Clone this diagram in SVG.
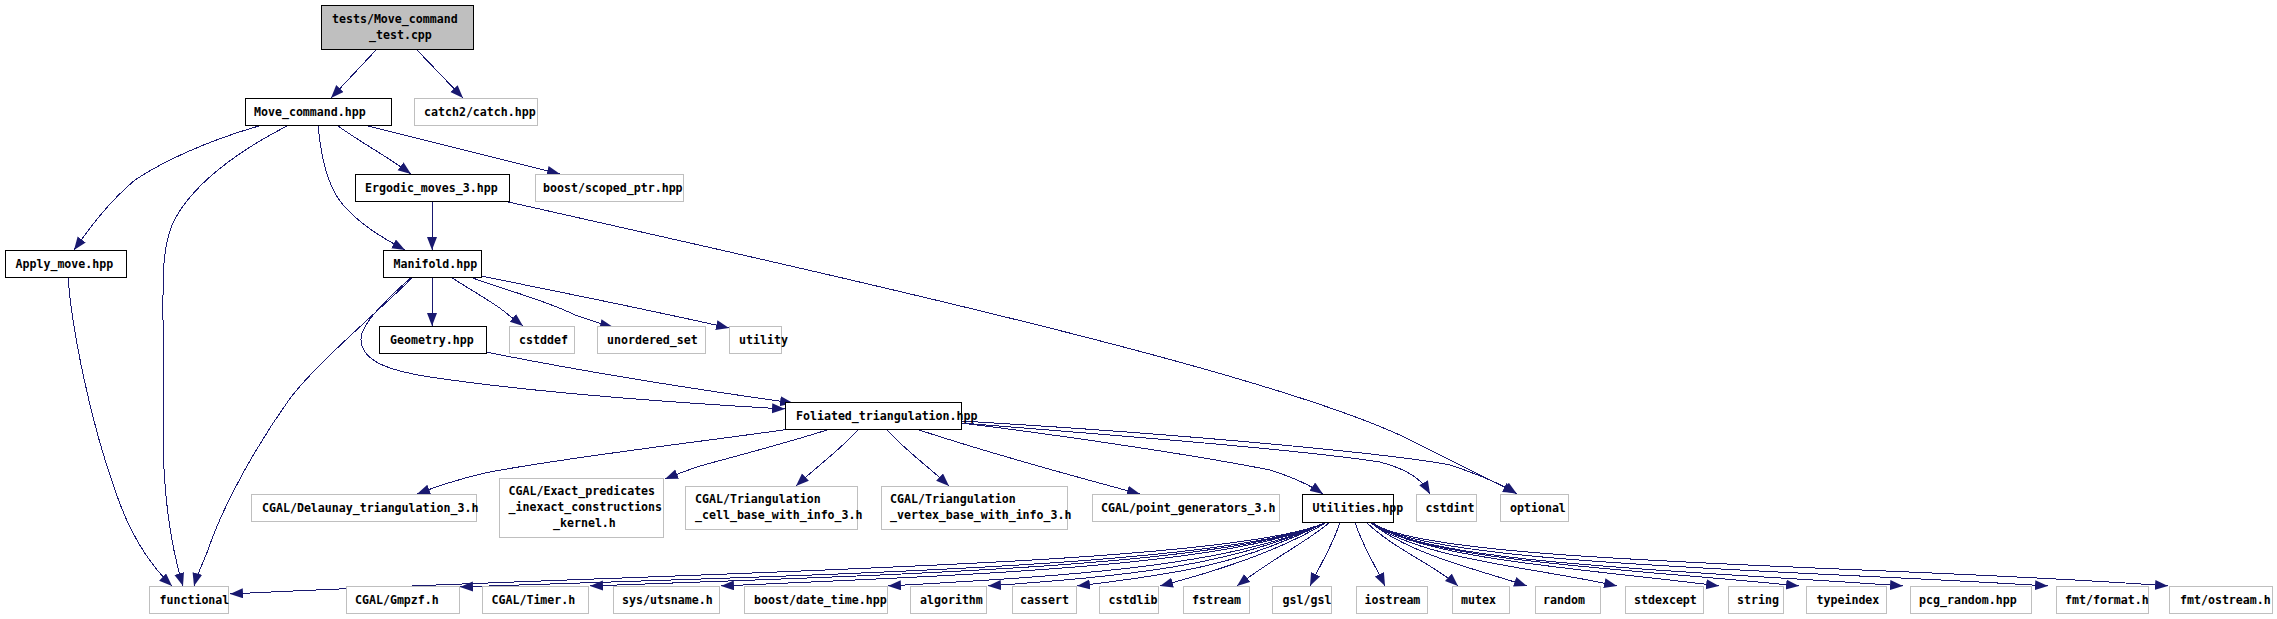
<svg xmlns="http://www.w3.org/2000/svg" width="2277" height="619" viewBox="0 0 2277 619">
<defs>
<style>
.n rect{fill:#ffffff;stroke:#000000;stroke-width:1}
.s rect{fill:#ffffff;stroke:#bfbfbf;stroke-width:1}
.r rect{fill:#bfbfbf;stroke:#000000;stroke-width:1}
text{font-family:"DejaVu Sans Mono","Liberation Mono",monospace;font-size:11.6px;font-weight:bold;fill:#000000}
#edges path{fill:none;stroke:#191970;stroke-width:1;shape-rendering:crispEdges;marker-end:url(#a)}
</style>
<marker id="a" markerUnits="userSpaceOnUse" markerWidth="14" markerHeight="11" refX="13" refY="5" orient="auto"><path d="M0,0 L13,5 L0,10 z" fill="#191970"/></marker>
</defs>
<rect width="2277" height="619" fill="#ffffff"/>
<g id="edges">
<path d="M376,50 L331,98"/>
<path d="M417,50 L463,98"/>
<path d="M259,126 C210,140 165,160 135,180 C105,205 85,235 74,250"/>
<path d="M287,126 C240,150 190,185 172,225 C162,250 163,280 163,320 L163,430 C163,500 172,550 183,586"/>
<path d="M318,126 C322,165 330,195 350,212 C365,228 390,242 405,250"/>
<path d="M338,126 C360,142 385,155 411,174"/>
<path d="M368,126 L560,174"/>
<path d="M432,201 L432,250"/>
<path d="M504,201 C900,290 1300,380 1420,445 C1470,470 1495,483 1516,493"/>
<path d="M68,277 C72,330 90,420 115,490 C130,535 150,565 172,586"/>
<path d="M432,277 L432,326"/>
<path d="M451,277 C470,290 490,300 505,312 C512,318 518,322 523,326"/>
<path d="M470,277 C505,290 545,300 575,315 C590,320 600,324 613,327"/>
<path d="M481,276 C560,292 650,310 729,328"/>
<path d="M413,277 C380,310 320,360 291,397 C260,440 225,500 208,550 C202,565 197,575 194,586"/>
<path d="M412,277 C385,300 360,325 361,340 C362,360 385,370 430,377 C530,392 680,403 785,409"/>
<path d="M486,352 C600,375 700,390 793,403"/>
<path d="M790,429 C700,442 560,458 485,473 C455,480 435,487 417,494"/>
<path d="M830,429 C790,442 740,455 700,466 C685,471 675,475 665,479"/>
<path d="M859,429 C840,450 815,468 796,486"/>
<path d="M886,429 C905,450 930,468 949,486"/>
<path d="M916,429 C980,450 1050,470 1140,494"/>
<path d="M961,423 C1100,440 1220,460 1270,470 C1295,478 1310,485 1323,494"/>
<path d="M961,423 C1150,438 1300,450 1380,462 C1410,470 1422,480 1430,494"/>
<path d="M961,421 C1200,435 1400,455 1450,465 C1480,475 1500,483 1517,494"/>
<path d="M1327,522 C1230,567 669,572 230,594"/>
<path d="M1327,522 C1230,567 807,575 460,587"/>
<path d="M1327,522 C1230,567 885,575 590,586"/>
<path d="M1327,522 C1230,567 963,575 721,586"/>
<path d="M1327,522 C1230,567 1064,576 888,586"/>
<path d="M1327,522 C1230,567 1124,576 988,586"/>
<path d="M1327,522 C1240,565 1177,574 1077,586"/>
<path d="M1327,522 C1290,545 1240,565 1160,586"/>
<path d="M1330,522 C1310,540 1270,560 1237,586"/>
<path d="M1340,522 C1333,545 1320,565 1310,586"/>
<path d="M1355,522 C1362,545 1375,565 1385,586"/>
<path d="M1366,522 C1395,550 1435,565 1458,586"/>
<path d="M1370,522 C1410,555 1480,570 1527,586"/>
<path d="M1370,522 C1420,560 1540,568 1617,586"/>
<path d="M1371,522 C1420,560 1600,570 1719,586"/>
<path d="M1371,522 C1420,562 1650,570 1799,586"/>
<path d="M1372,522 C1420,565 1720,572 1903,586"/>
<path d="M1372,522 C1420,565 1800,570 2048,586"/>
<path d="M1372,522 C1420,565 1900,565 2168,586"/>
</g>
<g id="node_test" class="r"><rect x="321.5" y="5.5" width="152" height="44"/><text x="332" y="23">tests/Move_command</text><text x="369" y="39">_test.cpp</text></g>
<g id="node_move_command" class="n"><rect x="245.5" y="98.5" width="146" height="27"/><text x="254" y="115.5">Move_command.hpp</text></g>
<g id="node_catch" class="s"><rect x="414.5" y="98.5" width="123" height="27"/><text x="424" y="115.5">catch2/catch.hpp</text></g>
<g id="node_ergodic" class="n"><rect x="355.5" y="174.5" width="154" height="27"/><text x="365" y="191.5">Ergodic_moves_3.hpp</text></g>
<g id="node_scoped_ptr" class="s"><rect x="535.5" y="174.5" width="148" height="27"/><text x="543" y="191.5">boost/scoped_ptr.hpp</text></g>
<g id="node_apply_move" class="n"><rect x="5.5" y="250.5" width="121" height="27"/><text x="15.5" y="267.5">Apply_move.hpp</text></g>
<g id="node_manifold" class="n"><rect x="383.5" y="250.5" width="98" height="27"/><text x="393.5" y="267.5">Manifold.hpp</text></g>
<g id="node_geometry" class="n"><rect x="379.5" y="326.5" width="107" height="27"/><text x="390" y="343.5">Geometry.hpp</text></g>
<g id="node_cstddef" class="s"><rect x="509.5" y="326.5" width="65" height="27"/><text x="519" y="343.5">cstddef</text></g>
<g id="node_unordered_set" class="s"><rect x="597.5" y="326.5" width="108" height="27"/><text x="607" y="343.5">unordered_set</text></g>
<g id="node_utility" class="s"><rect x="729.5" y="326.5" width="52" height="27"/><text x="739" y="343.5">utility</text></g>
<g id="node_foliated" class="n"><rect x="785.5" y="402.5" width="176" height="27"/><text x="796" y="419.5">Foliated_triangulation.hpp</text></g>
<g id="node_delaunay" class="s"><rect x="251.5" y="494.5" width="225" height="27"/><text x="262" y="511.5">CGAL/Delaunay_triangulation_3.h</text></g>
<g id="node_exact" class="s"><rect x="499.5" y="478.5" width="164" height="59"/><text x="508.5" y="495">CGAL/Exact_predicates</text><text x="508.5" y="511">_inexact_constructions</text><text x="553" y="527">_kernel.h</text></g>
<g id="node_tri_cell" class="s"><rect x="685.5" y="486.5" width="172" height="43"/><text x="695" y="503">CGAL/Triangulation</text><text x="695" y="519">_cell_base_with_info_3.h</text></g>
<g id="node_tri_vertex" class="s"><rect x="881.5" y="486.5" width="186" height="43"/><text x="890" y="503">CGAL/Triangulation</text><text x="890" y="519">_vertex_base_with_info_3.h</text></g>
<g id="node_point_generators" class="s"><rect x="1092.5" y="494.5" width="187" height="27"/><text x="1101" y="511.5">CGAL/point_generators_3.h</text></g>
<g id="node_utilities" class="n"><rect x="1302.5" y="494.5" width="91" height="28"/><text x="1312.5" y="511.5">Utilities.hpp</text></g>
<g id="node_cstdint" class="s"><rect x="1416.5" y="494.5" width="60" height="27"/><text x="1425.5" y="511.5">cstdint</text></g>
<g id="node_optional" class="s"><rect x="1500.5" y="494.5" width="68" height="27"/><text x="1510" y="511.5">optional</text></g>
<g id="node_functional" class="s"><rect x="149.5" y="586.5" width="79" height="27"/><text x="159.5" y="603.5">functional</text></g>
<g id="node_gmpzf" class="s"><rect x="346.5" y="586.5" width="113" height="27"/><text x="355" y="603.5">CGAL/Gmpzf.h</text></g>
<g id="node_timer" class="s"><rect x="482.5" y="586.5" width="106" height="27"/><text x="491.5" y="603.5">CGAL/Timer.h</text></g>
<g id="node_utsname" class="s"><rect x="613.5" y="586.5" width="106" height="27"/><text x="622" y="603.5">sys/utsname.h</text></g>
<g id="node_date_time" class="s"><rect x="744.5" y="586.5" width="143" height="27"/><text x="754" y="603.5">boost/date_time.hpp</text></g>
<g id="node_algorithm" class="s"><rect x="910.5" y="586.5" width="76" height="27"/><text x="920" y="603.5">algorithm</text></g>
<g id="node_cassert" class="s"><rect x="1012.5" y="586.5" width="64" height="27"/><text x="1020" y="603.5">cassert</text></g>
<g id="node_cstdlib" class="s"><rect x="1099.5" y="586.5" width="59" height="27"/><text x="1108.5" y="603.5">cstdlib</text></g>
<g id="node_fstream" class="s"><rect x="1183.5" y="586.5" width="66" height="27"/><text x="1192" y="603.5">fstream</text></g>
<g id="node_gsl" class="s"><rect x="1272.5" y="586.5" width="59" height="27"/><text x="1282.5" y="603.5">gsl/gsl</text></g>
<g id="node_iostream" class="s"><rect x="1356.5" y="586.5" width="71" height="27"/><text x="1364.5" y="603.5">iostream</text></g>
<g id="node_mutex" class="s"><rect x="1452.5" y="586.5" width="57" height="27"/><text x="1461" y="603.5">mutex</text></g>
<g id="node_random" class="s"><rect x="1535.5" y="586.5" width="65" height="27"/><text x="1543" y="603.5">random</text></g>
<g id="node_stdexcept" class="s"><rect x="1625.5" y="586.5" width="78" height="27"/><text x="1634" y="603.5">stdexcept</text></g>
<g id="node_string" class="s"><rect x="1728.5" y="586.5" width="55" height="27"/><text x="1737" y="603.5">string</text></g>
<g id="node_typeindex" class="s"><rect x="1806.5" y="586.5" width="80" height="27"/><text x="1816.5" y="603.5">typeindex</text></g>
<g id="node_pcg_random" class="s"><rect x="1910.5" y="586.5" width="121" height="27"/><text x="1919" y="603.5">pcg_random.hpp</text></g>
<g id="node_fmt_format" class="s"><rect x="2056.5" y="586.5" width="92" height="27"/><text x="2065" y="603.5">fmt/format.h</text></g>
<g id="node_fmt_ostream" class="s"><rect x="2169.5" y="586.5" width="103" height="27"/><text x="2180" y="603.5">fmt/ostream.h</text></g>
</svg>
